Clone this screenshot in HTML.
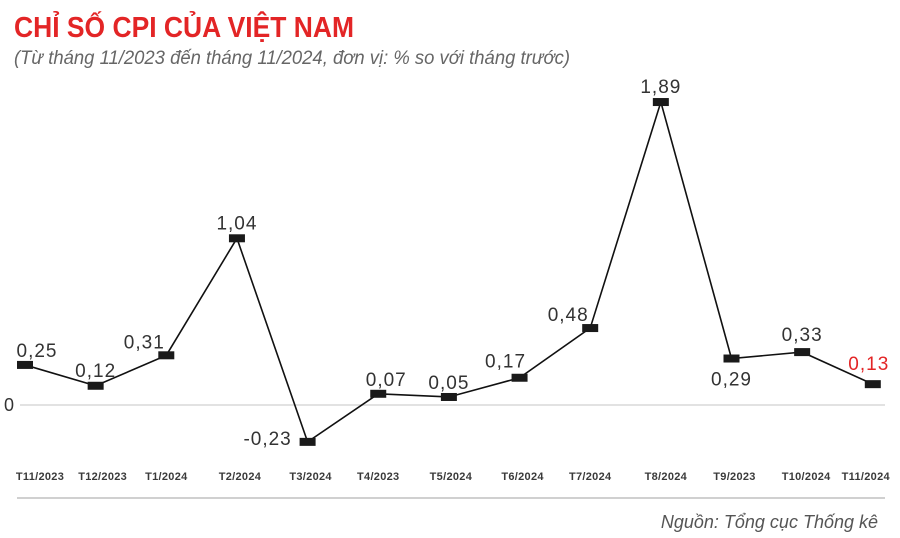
<!DOCTYPE html>
<html><head><meta charset="utf-8"><style>
body{margin:0;background:#fff;}
svg{display:block;font-family:"Liberation Sans",sans-serif;}
</style></head><body>
<svg id="c" width="900" height="538">
<text x="14" y="37" font-size="29" font-weight="bold" fill="#e32526" textLength="340" lengthAdjust="spacingAndGlyphs">CHỈ SỐ CPI CỦA VIỆT NAM</text>
<text x="14" y="64" font-size="19" font-style="italic" fill="#666" textLength="556" lengthAdjust="spacingAndGlyphs">(Từ tháng 11/2023 đến tháng 11/2024, đơn vị: % so với tháng trước)</text>
<line x1="20" y1="405" x2="885" y2="405" stroke="#d8d8d8" stroke-width="1.5"/>
<text x="4" y="411" font-size="18" fill="#333">0</text>
<line x1="17" y1="498" x2="885" y2="498" stroke="#d0d0d0" stroke-width="2"/>
<text x="878" y="528" font-size="18" font-style="italic" fill="#555" text-anchor="end">Nguồn: Tổng cục Thống kê</text>
<g id="g"></g>
</svg>
<script>
const categories=["T11/2023","T12/2023","T1/2024","T2/2024","T3/2024","T4/2023","T5/2024","T6/2024","T7/2024","T8/2024","T9/2023","T10/2024","T11/2024"];
const values=[0.25,0.12,0.31,1.04,-0.23,0.07,0.05,0.17,0.48,1.89,0.29,0.33,0.13];
const valueLabels=["0,25","0,12","0,31","1,04","-0,23","0,07","0,05","0,17","0,48","1,89","0,29","0,33","0,13"];
const labelDx=[12,0,-22,0,-40,8,0,-14,-22,0,0,0,-4];
const labelDy=[-8,-9,-7,-9,3,-8,-8,-10,-7,-9,27,-11,-14];
const tickDx=[15,7,0,3,3,0,2,3,0,5,3,4,-7];
const NS="http://www.w3.org/2000/svg";
const g=document.getElementById('g');
const x=i=>25+i*70.65;
const y=v=>405-v*160.3;
function mk(t,a){const e=document.createElementNS(NS,t);for(const k in a)e.setAttribute(k,a[k]);g.appendChild(e);return e;}
const line=mk('polyline',{points:values.map((v,i)=>x(i)+','+y(v)).join(' '),fill:'none',stroke:'#111','stroke-width':1.6});


categories.forEach((c,i)=>{
  const t=mk('text',{x:x(i)+tickDx[i],y:480,'font-size':11,'font-weight':'bold',fill:'#3a3a3a','text-anchor':'middle','letter-spacing':'0.3'});
  t.textContent=c;
  
  
});
values.forEach((v,i)=>{
  const r=mk('rect',{x:x(i)-8,y:y(v)-4,width:16,height:8,fill:'#1a1a1a'});
  
  
  const t=mk('text',{x:x(i)+labelDx[i],y:y(v)+labelDy[i],'font-size':19,fill:i==values.length-1?'#e32526':'#333','text-anchor':'middle','letter-spacing':'1'});
  t.textContent=valueLabels[i];
  
  
});
</script>
</body></html>
